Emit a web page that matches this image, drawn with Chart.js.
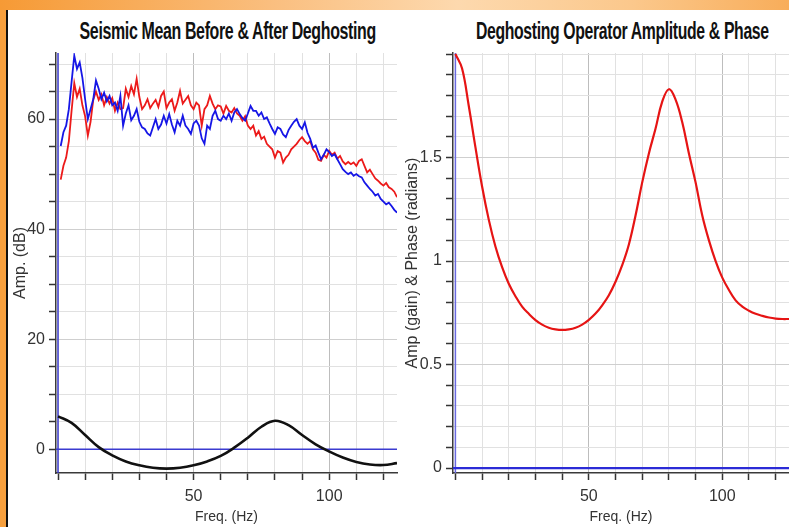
<!DOCTYPE html>
<html>
<head>
<meta charset="utf-8">
<script src="https://cdn.jsdelivr.net/npm/chart.js@4.4.1/dist/chart.umd.min.js"></script>
<style>
    html, body { margin: 0; padding: 0; }
    body {
        width: 789px; height: 527px; overflow: hidden; position: relative;
        background: #fff;
    }
    .topband {
        position: absolute; left: 0; top: 0; width: 789px; height: 10px;
        background: linear-gradient(to right, #f69a35 0%, #fabf80 35%, #fdd9ae 58%, #fbc88c 80%, #f8ad5a 100%);
    }
    .leftband {
        position: absolute; left: 0; top: 10px; width: 6px; height: 517px;
        background: #f7a03e; border-right: 2px solid #111;
    }
    .box { position: absolute; top: 10px; height: 517px; }
    .title {
        position: absolute; top: 17px; width: 600px; text-align: center;
        font-family: "Liberation Sans", Arial, sans-serif;
        font-weight: bold; font-size: 23px; line-height: 28px; color: #111; white-space: nowrap;
        letter-spacing: -0.5px;
    }
    .title span { display: inline-block; transform-origin: center; }
</style>
</head>
<body>
<div class="topband"></div>
<div class="leftband"></div>
<div class="title" id="titleLeft" style="left:-72px" data-w="296"><span>Seismic Mean Before &amp; After Deghosting</span></div>
<div class="title" id="titleRight" style="left:322px" data-w="293"><span>Deghosting Operator Amplitude &amp; Phase</span></div>
<div class="box" style="left:8px; width:392px;"><canvas id="spectrumChart"></canvas></div>
<div class="box" style="left:400px; width:389px;"><canvas id="operatorChart"></canvas></div>

<script>
// Fréquences échantillonnées (Hz)
const freqHz = [1,2,3,4,5,6,7,8,9,10,11,12,13,14,15,16,17,18,19,20,21,22,23,24,25,26,27,28,29,30,
    31,32,33,34,35,36,37,38,39,40,41,42,43,44,45,46,47,48,49,50,51,52,53,54,55,56,57,58,59,60,
    61,62,63,64,65,66,67,68,69,70,71,72,73,74,75,76,77,78,79,80,81,82,83,84,85,86,87,88,89,90,
    91,92,93,94,95,96,97,98,99,100,101,102,103,104,105,106,107,108,109,110,111,112,113,114,115,
    116,117,118,119,120,121,122,123,124,125];

// Moyenne sismique (dB) - courbe rouge
const ampRed = [49.0,51.5,53.0,56.0,61.5,66.5,64.0,65.5,62.5,60.5,57.0,59.5,63.5,65.0,63.5,64.5,62.5,64.0,62.8,63.8,
    61.5,63.0,61.8,62.0,65.5,64.0,66.0,64.5,67.3,64.0,61.8,62.5,63.6,62.0,62.8,63.5,62.2,64.2,65.0,62.0,
    63.0,63.6,61.5,63.0,65.1,62.8,63.5,64.2,62.5,61.8,63.0,62.5,58.8,61.8,62.5,64.2,62.8,61.8,62.5,62.3,
    61.0,62.4,61.5,61.2,62.0,61.0,60.6,59.7,60.5,58.8,58.2,58.8,57.0,57.8,56.4,56.8,55.5,55.0,54.5,53.0,
    54.2,53.9,52.1,53.0,53.5,54.5,55.0,55.5,56.2,56.7,56.0,55.5,56.0,54.5,53.9,52.6,52.4,53.5,53.0,54.2,
    53.5,53.9,52.8,53.3,52.3,51.8,52.2,51.8,52.1,51.5,52.4,52.7,51.5,50.3,50.8,50.0,49.2,48.8,48.3,47.9,
    48.4,47.6,47.3,46.8,45.8];

// Moyenne sismique (dB) - courbe bleue
const ampBlue = [55.1,57.6,58.8,61.8,66.7,71.5,69.1,70.3,67.5,63.6,60.0,61.8,63.6,67.0,65.5,63.6,64.8,63.2,64.2,62.5,
    63.0,61.5,64.2,58.8,61.0,62.5,59.8,60.6,61.8,59.5,58.5,58.2,57.4,57.0,58.5,60.0,58.2,59.0,60.6,59.2,
    60.9,59.0,57.6,59.7,58.8,60.6,58.8,58.2,57.3,59.2,59.7,58.8,56.5,55.5,58.8,58.2,60.6,61.5,60.0,59.7,
    60.6,60.0,61.0,59.7,61.2,61.8,60.9,60.2,59.7,61.0,62.4,61.5,61.5,60.6,61.2,60.0,60.3,59.2,58.2,57.3,
    58.5,58.2,57.2,56.7,58.0,58.8,59.5,60.0,58.8,58.2,59.4,57.5,56.4,54.8,55.2,53.9,52.7,53.5,54.5,54.0,
    53.3,53.6,52.7,51.8,50.9,50.4,50.0,50.3,49.7,50.0,49.6,49.4,48.5,47.9,47.3,46.8,46.1,46.4,45.5,45.0,
    44.5,44.8,44.2,43.5,43.0];

// Opérateur de deghosting en dB (courbe noire)
const opFreqDb = [0,5,10,15,20,25,30,35,40,45,50,55,60,65,70,75,80,85,90,95,100,105,110,115,120,125];
const opGainDb = [6.0,4.8,2.6,0.4,-1.1,-2.2,-2.9,-3.35,-3.5,-3.35,-2.9,-2.2,-1.2,0.3,2.1,4.1,5.2,4.4,2.6,0.9,
    -0.4,-1.5,-2.3,-2.75,-2.85,-2.5];

// Opérateur de deghosting en gain linéaire (courbe rouge, graphique de droite)
const opFreq = [0,2.5,5,7.5,10,12.5,15,17.5,20,22.5,25,27.5,30,32.5,35,37.5,40,42.5,45,47.5,50,52.5,55,57.5,60,
    62.5,65,67.5,70,72.5,75,77.5,80,82.5,85,87.5,90,92.5,95,97.5,100,102.5,105,107.5,110,112.5,115,117.5,120,122.5,125];
const opGain = [2.00,1.93,1.75,1.55,1.36,1.20,1.07,0.97,0.89,0.83,0.78,0.745,0.715,0.693,0.678,0.670,0.667,0.670,0.678,0.693,
    0.716,0.746,0.786,0.835,0.90,0.98,1.08,1.22,1.38,1.52,1.64,1.77,1.83,1.78,1.67,1.52,1.38,1.22,1.10,1.00,
    0.92,0.86,0.81,0.78,0.76,0.745,0.735,0.727,0.722,0.72,0.72];

// Graduations
const leftYLabels = [0, 20, 40, 60];
const rightYLabels = [0, 0.5, 1, 1.5];
const xLabels = [50, 100];

const FONT = '"Liberation Sans", Arial, sans-serif';

function toPoints(xs, ys) {
    return xs.map((x, i) => ({ x: x, y: ys[i] }));
}

function isLabel(list, v) {
    return list.some(l => Math.abs(l - v) < 1e-6);
}

function buildScales(xr, yr, yStep, yList, yTitle, yWidth) {
    return {
        x: {
            type: 'linear', min: xr[0], max: xr[1],
            afterFit: s => { s.height = 54; },
            border: { color: '#3a3a3a', width: 1.5 },
            grid: {
                color: c => isLabel(xLabels, c.tick.value) ? '#bdbdbd' : '#e1e1e1',
                tickColor: '#333', tickWidth: 1.5, tickLength: 7
            },
            ticks: {
                stepSize: 10, includeBounds: false, autoSkip: false, maxRotation: 0, padding: 7,
                color: '#333', font: { family: FONT, size: 16 },
                callback: v => isLabel(xLabels, v) ? String(v) : ''
            },
            title: {
                display: true, text: 'Freq. (Hz)', color: '#333',
                font: { family: FONT, size: 14 }, padding: { top: 0, bottom: 1 }
            }
        },
        y: {
            type: 'linear', min: yr[0], max: yr[1],
            afterFit: s => { s.width = yWidth; },
            border: { color: '#3a3a3a', width: 1.5 },
            grid: {
                color: c => isLabel(yList, c.tick.value) ? '#cfcfcf' : '#e1e1e1',
                tickColor: '#333', tickWidth: 1.5, tickLength: 7
            },
            ticks: {
                stepSize: yStep, includeBounds: false, autoSkip: false, padding: 4,
                color: '#333', font: { family: FONT, size: 16 },
                callback: v => isLabel(yList, v) ? String(Math.round(v * 10) / 10) : ''
            },
            title: {
                display: true, text: yTitle, color: '#333',
                font: { family: FONT, size: 16 }, padding: { top: 3, bottom: 2 }
            }
        }
    };
}

function lineSet(data, color, width, tension) {
    return {
        data: data, borderColor: color, borderWidth: width, pointRadius: 0,
        tension: tension || 0, fill: false
    };
}

function initSpectrumChart() {
    const xr = [-0.74, 125], yr = [-4.3, 72];
    const ctx = document.getElementById('spectrumChart').getContext('2d');
    new Chart(ctx, {
        type: 'line',
        data: {
            datasets: [
                lineSet(toPoints(freqHz, ampBlue), '#1616e6', 1.8),
                lineSet(toPoints(freqHz, ampRed), '#ec1a1a', 1.8),
                lineSet(toPoints(opFreqDb, opGainDb), '#111111', 2.6, 0.4),
                // lignes du zéro
                lineSet([{ x: xr[0], y: 0 }, { x: xr[1], y: 0 }], '#3b3bd0', 1.5),
                lineSet([{ x: 0, y: yr[0] }, { x: 0, y: yr[1] }], '#3b3bd0', 1.5)
            ]
        },
        options: {
            responsive: true, maintainAspectRatio: false, animation: false,
            layout: { padding: { top: 43, right: 3, left: 0, bottom: 0 } },
            plugins: { legend: { display: false }, tooltip: { enabled: false } },
            scales: buildScales(xr, yr, 5, leftYLabels, 'Amp. (dB)', 48)
        }
    });
}

function initOperatorChart() {
    const xr = [-0.9, 125], yr = [-0.024, 2.005];
    const ctx = document.getElementById('operatorChart').getContext('2d');
    new Chart(ctx, {
        type: 'line',
        data: {
            datasets: [
                lineSet(toPoints(opFreq, opGain), '#e61414', 2.2, 0.4),
                lineSet([{ x: xr[0], y: 0 }, { x: xr[1], y: 0 }], '#2b2bd6', 2.2),
                lineSet([{ x: 0, y: yr[0] }, { x: 0, y: yr[1] }], '#6a6ae0', 1.5)
            ]
        },
        options: {
            responsive: true, maintainAspectRatio: false, animation: false,
            layout: { padding: { top: 43, right: 0, left: 0, bottom: 0 } },
            plugins: { legend: { display: false }, tooltip: { enabled: false } },
            scales: buildScales(xr, yr, 0.1, rightYLabels, 'Amp (gain) & Phase (radians)', 53)
        }
    });
}

// Titres condensés à la largeur du modèle
function fitTitles() {
    document.querySelectorAll('.title').forEach(el => {
        const span = el.querySelector('span');
        const target = parseFloat(el.dataset.w);
        span.style.transform = 'scaleX(' + (target / span.offsetWidth) + ')';
    });
}

fitTitles();
initSpectrumChart();
initOperatorChart();
</script>
</body>
</html>
